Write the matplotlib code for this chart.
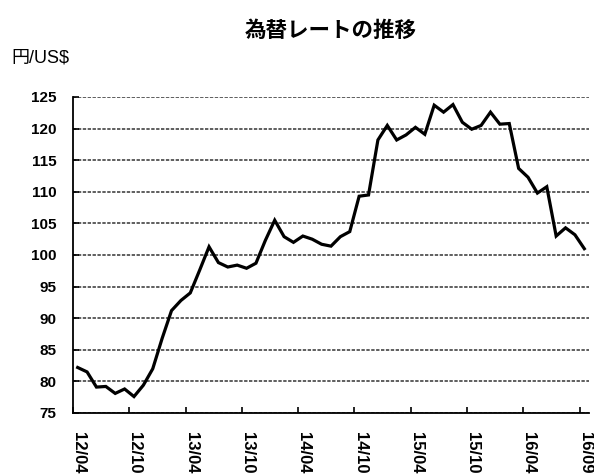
import matplotlib
matplotlib.use("Agg")
import matplotlib.pyplot as plt
import numpy as np

plt.rcParams['font.family'] = ['Liberation Sans', 'Noto Sans CJK JP', 'DejaVu Sans']

# monthly USD/JPY rate, 12/04 .. 16/09
rates = [82.2, 81.5, 79.1, 79.2, 78.1, 78.8, 77.6, 79.4, 82.0, 86.8,
         91.2, 92.8, 94.0, 97.6, 101.3, 98.8, 98.1, 98.4, 97.9, 98.7,
         102.3, 105.5, 102.9, 102.0, 103.0, 102.5, 101.7, 101.4, 102.9, 103.7,
         109.3, 109.5, 118.2, 120.5, 118.2, 119.0, 120.2, 119.1, 123.7, 122.6,
         123.8, 121.0, 119.9, 120.5, 122.6, 120.7, 120.8, 113.7, 112.3, 109.8,
         110.8, 103.0, 104.3, 103.2, 101.0]
tick_labels = ["12/04", "12/10", "13/04", "13/10", "14/04", "14/10",
               "15/04", "15/10", "16/04", "16/09"]
yticks = [75, 80, 85, 90, 95, 100, 105, 110, 115, 120, 125]

fig = plt.figure(figsize=(5.94, 4.75), dpi=100)
ax = fig.add_axes([73/594, 1 - 413/475, 516/594, 316/475])

x = np.arange(len(rates)) + 0.5
ax.plot(x, rates, color='black', lw=2.3, solid_joinstyle='miter')

ax.set_xlim(0, len(rates))
ax.set_ylim(75, 125)
ax.set_yticks(yticks)
ax.set_yticklabels([str(v) for v in yticks], fontsize=11, fontweight='bold')

# tick marks on category boundaries, labels on category centres
ax.set_xticks(np.arange(0, len(rates), 6))
ax.set_xticklabels([])
ax.set_xticks(np.arange(0, len(rates), 6) + 0.6, minor=True)
ax.set_xticklabels(tick_labels, minor=True, rotation=270, fontsize=12,
                   fontweight='bold', va='top', ha='center')
ax.tick_params(axis='x', which='major', direction='in', length=4, width=1.2)
ax.tick_params(axis='x', which='minor', length=0, pad=14)
ax.tick_params(axis='y', direction='in', length=4, width=1.2, pad=12)

ax.yaxis.grid(True, color='#333333', lw=1.1, linestyle=(0, (2.2, 1.0)))
ax.set_axisbelow(True)
for s in ['top', 'right']:
    ax.spines[s].set_visible(False)
ax.spines['left'].set_linewidth(1.3)
ax.spines['bottom'].set_linewidth(1.3)

fig.text(331/594, 1 - 31.5/475, "為替レートの推移", ha='center', va='center',
         fontsize=15.5, fontweight='bold')
fig.text(11/594, 1 - 58.5/475, "円/US$", ha='left', va='center', fontsize=13)

fig.savefig("out.png", dpi=100)
